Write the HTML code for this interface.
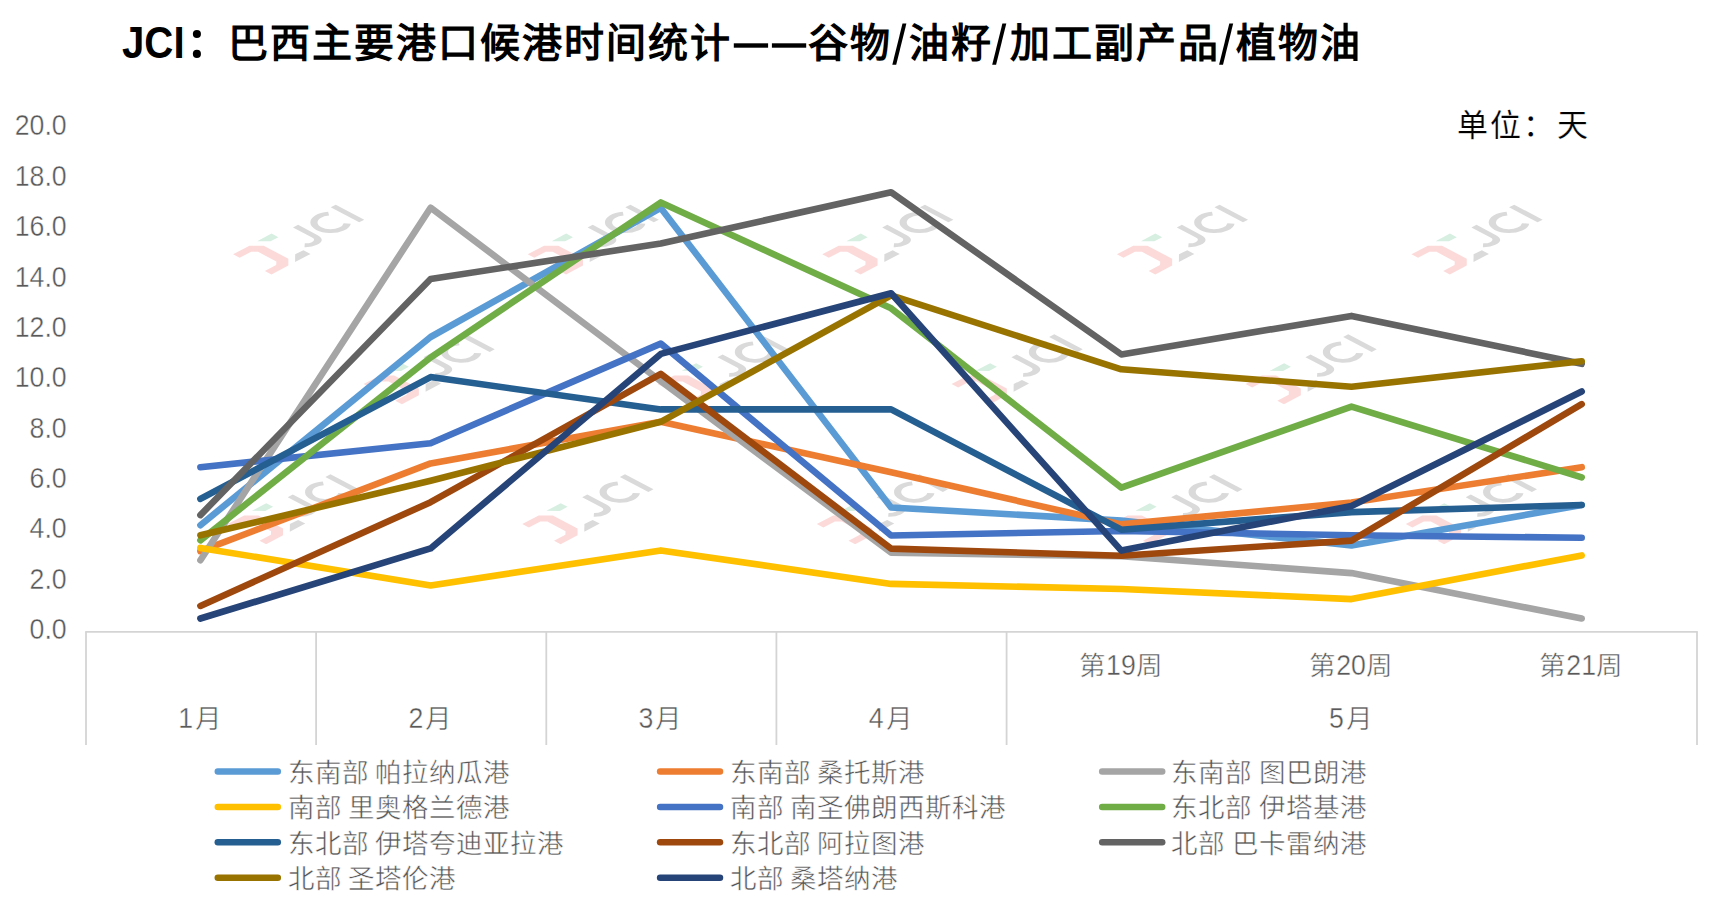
<!DOCTYPE html>
<html lang="zh-CN"><head><meta charset="utf-8"><title>JCI</title>
<style>html,body{margin:0;padding:0;background:#fff}body{width:1722px;height:915px;overflow:hidden}svg{display:block}text{font-family:"Liberation Sans",sans-serif}.ax{font-size:26.5px;fill:#555;stroke:#fff;stroke-width:0.5px}.dg{font-size:30px;fill:#595959;stroke:#fff;stroke-width:0.4px}.ay{font-size:30px;fill:#595959;stroke:#fff;stroke-width:0.4px}.lg{font-size:26.5px;fill:#555;stroke:#fff;stroke-width:0.5px}.ti{font-size:40px;font-weight:700;fill:#000;letter-spacing:2px}.tj{font-size:45px;font-weight:700;fill:#000}.un{font-size:31px;fill:#000;letter-spacing:2.3px;stroke:#fff;stroke-width:0.2px}</style></head><body>
<svg width="1722" height="915" viewBox="0 0 1722 915">
<rect width="1722" height="915" fill="#fff"/>
<g id="watermarks">
<g transform="matrix(0.909,-0.479,0.909,0.479,233.1,254.3)"><polygon fill="#FDDADA" points="0,0 18,0 25.8,7.8 25.8,35 18.6,42.2 0,42.2 0,34.9 12.5,34.9 16.2,31.4 16.3,11.2 12.6,7.3 0,7.2"/><polygon fill="#D6EFE1" points="27,-0.5 42.8,-0.5 42.8,7 34.2,7"/><polygon fill="#DADADA" points="34.1,34.2 43,34.4 43,42.2 26,42.2"/><g fill="none" stroke="#DADADA" stroke-width="5.6"><path d="M63.7,5 L63.7,26 Q63.7,33.4 56,33.4 Q52,33.4 48.8,29.9"/><path d="M95.0,10.06 A13,13 0 1 0 95.0,30.54"/><path d="M105.5,4.65 L105.5,36"/></g></g>
<g transform="matrix(0.909,-0.479,0.909,0.479,527.7,254.3)"><polygon fill="#FDDADA" points="0,0 18,0 25.8,7.8 25.8,35 18.6,42.2 0,42.2 0,34.9 12.5,34.9 16.2,31.4 16.3,11.2 12.6,7.3 0,7.2"/><polygon fill="#D6EFE1" points="27,-0.5 42.8,-0.5 42.8,7 34.2,7"/><polygon fill="#DADADA" points="34.1,34.2 43,34.4 43,42.2 26,42.2"/><g fill="none" stroke="#DADADA" stroke-width="5.6"><path d="M63.7,5 L63.7,26 Q63.7,33.4 56,33.4 Q52,33.4 48.8,29.9"/><path d="M95.0,10.06 A13,13 0 1 0 95.0,30.54"/><path d="M105.5,4.65 L105.5,36"/></g></g>
<g transform="matrix(0.909,-0.479,0.909,0.479,822.3,254.3)"><polygon fill="#FDDADA" points="0,0 18,0 25.8,7.8 25.8,35 18.6,42.2 0,42.2 0,34.9 12.5,34.9 16.2,31.4 16.3,11.2 12.6,7.3 0,7.2"/><polygon fill="#D6EFE1" points="27,-0.5 42.8,-0.5 42.8,7 34.2,7"/><polygon fill="#DADADA" points="34.1,34.2 43,34.4 43,42.2 26,42.2"/><g fill="none" stroke="#DADADA" stroke-width="5.6"><path d="M63.7,5 L63.7,26 Q63.7,33.4 56,33.4 Q52,33.4 48.8,29.9"/><path d="M95.0,10.06 A13,13 0 1 0 95.0,30.54"/><path d="M105.5,4.65 L105.5,36"/></g></g>
<g transform="matrix(0.909,-0.479,0.909,0.479,1116.9,254.3)"><polygon fill="#FDDADA" points="0,0 18,0 25.8,7.8 25.8,35 18.6,42.2 0,42.2 0,34.9 12.5,34.9 16.2,31.4 16.3,11.2 12.6,7.3 0,7.2"/><polygon fill="#D6EFE1" points="27,-0.5 42.8,-0.5 42.8,7 34.2,7"/><polygon fill="#DADADA" points="34.1,34.2 43,34.4 43,42.2 26,42.2"/><g fill="none" stroke="#DADADA" stroke-width="5.6"><path d="M63.7,5 L63.7,26 Q63.7,33.4 56,33.4 Q52,33.4 48.8,29.9"/><path d="M95.0,10.06 A13,13 0 1 0 95.0,30.54"/><path d="M105.5,4.65 L105.5,36"/></g></g>
<g transform="matrix(0.909,-0.479,0.909,0.479,1411.5,254.3)"><polygon fill="#FDDADA" points="0,0 18,0 25.8,7.8 25.8,35 18.6,42.2 0,42.2 0,34.9 12.5,34.9 16.2,31.4 16.3,11.2 12.6,7.3 0,7.2"/><polygon fill="#D6EFE1" points="27,-0.5 42.8,-0.5 42.8,7 34.2,7"/><polygon fill="#DADADA" points="34.1,34.2 43,34.4 43,42.2 26,42.2"/><g fill="none" stroke="#DADADA" stroke-width="5.6"><path d="M63.7,5 L63.7,26 Q63.7,33.4 56,33.4 Q52,33.4 48.8,29.9"/><path d="M95.0,10.06 A13,13 0 1 0 95.0,30.54"/><path d="M105.5,4.65 L105.5,36"/></g></g>
<g transform="matrix(0.909,-0.479,0.909,0.479,363.6,384.0)"><polygon fill="#FDDADA" points="0,0 18,0 25.8,7.8 25.8,35 18.6,42.2 0,42.2 0,34.9 12.5,34.9 16.2,31.4 16.3,11.2 12.6,7.3 0,7.2"/><polygon fill="#D6EFE1" points="27,-0.5 42.8,-0.5 42.8,7 34.2,7"/><polygon fill="#DADADA" points="34.1,34.2 43,34.4 43,42.2 26,42.2"/><g fill="none" stroke="#DADADA" stroke-width="5.6"><path d="M63.7,5 L63.7,26 Q63.7,33.4 56,33.4 Q52,33.4 48.8,29.9"/><path d="M95.0,10.06 A13,13 0 1 0 95.0,30.54"/><path d="M105.5,4.65 L105.5,36"/></g></g>
<g transform="matrix(0.909,-0.479,0.909,0.479,657.6,384.0)"><polygon fill="#FDDADA" points="0,0 18,0 25.8,7.8 25.8,35 18.6,42.2 0,42.2 0,34.9 12.5,34.9 16.2,31.4 16.3,11.2 12.6,7.3 0,7.2"/><polygon fill="#D6EFE1" points="27,-0.5 42.8,-0.5 42.8,7 34.2,7"/><polygon fill="#DADADA" points="34.1,34.2 43,34.4 43,42.2 26,42.2"/><g fill="none" stroke="#DADADA" stroke-width="5.6"><path d="M63.7,5 L63.7,26 Q63.7,33.4 56,33.4 Q52,33.4 48.8,29.9"/><path d="M95.0,10.06 A13,13 0 1 0 95.0,30.54"/><path d="M105.5,4.65 L105.5,36"/></g></g>
<g transform="matrix(0.909,-0.479,0.909,0.479,951.6,384.0)"><polygon fill="#FDDADA" points="0,0 18,0 25.8,7.8 25.8,35 18.6,42.2 0,42.2 0,34.9 12.5,34.9 16.2,31.4 16.3,11.2 12.6,7.3 0,7.2"/><polygon fill="#D6EFE1" points="27,-0.5 42.8,-0.5 42.8,7 34.2,7"/><polygon fill="#DADADA" points="34.1,34.2 43,34.4 43,42.2 26,42.2"/><g fill="none" stroke="#DADADA" stroke-width="5.6"><path d="M63.7,5 L63.7,26 Q63.7,33.4 56,33.4 Q52,33.4 48.8,29.9"/><path d="M95.0,10.06 A13,13 0 1 0 95.0,30.54"/><path d="M105.5,4.65 L105.5,36"/></g></g>
<g transform="matrix(0.909,-0.479,0.909,0.479,1245.6,384.0)"><polygon fill="#FDDADA" points="0,0 18,0 25.8,7.8 25.8,35 18.6,42.2 0,42.2 0,34.9 12.5,34.9 16.2,31.4 16.3,11.2 12.6,7.3 0,7.2"/><polygon fill="#D6EFE1" points="27,-0.5 42.8,-0.5 42.8,7 34.2,7"/><polygon fill="#DADADA" points="34.1,34.2 43,34.4 43,42.2 26,42.2"/><g fill="none" stroke="#DADADA" stroke-width="5.6"><path d="M63.7,5 L63.7,26 Q63.7,33.4 56,33.4 Q52,33.4 48.8,29.9"/><path d="M95.0,10.06 A13,13 0 1 0 95.0,30.54"/><path d="M105.5,4.65 L105.5,36"/></g></g>
<g transform="matrix(0.909,-0.479,0.909,0.479,227.8,524.0)"><polygon fill="#FDDADA" points="0,0 18,0 25.8,7.8 25.8,35 18.6,42.2 0,42.2 0,34.9 12.5,34.9 16.2,31.4 16.3,11.2 12.6,7.3 0,7.2"/><polygon fill="#D6EFE1" points="27,-0.5 42.8,-0.5 42.8,7 34.2,7"/><polygon fill="#DADADA" points="34.1,34.2 43,34.4 43,42.2 26,42.2"/><g fill="none" stroke="#DADADA" stroke-width="5.6"><path d="M63.7,5 L63.7,26 Q63.7,33.4 56,33.4 Q52,33.4 48.8,29.9"/><path d="M95.0,10.06 A13,13 0 1 0 95.0,30.54"/><path d="M105.5,4.65 L105.5,36"/></g></g>
<g transform="matrix(0.909,-0.479,0.909,0.479,522.3,524.0)"><polygon fill="#FDDADA" points="0,0 18,0 25.8,7.8 25.8,35 18.6,42.2 0,42.2 0,34.9 12.5,34.9 16.2,31.4 16.3,11.2 12.6,7.3 0,7.2"/><polygon fill="#D6EFE1" points="27,-0.5 42.8,-0.5 42.8,7 34.2,7"/><polygon fill="#DADADA" points="34.1,34.2 43,34.4 43,42.2 26,42.2"/><g fill="none" stroke="#DADADA" stroke-width="5.6"><path d="M63.7,5 L63.7,26 Q63.7,33.4 56,33.4 Q52,33.4 48.8,29.9"/><path d="M95.0,10.06 A13,13 0 1 0 95.0,30.54"/><path d="M105.5,4.65 L105.5,36"/></g></g>
<g transform="matrix(0.909,-0.479,0.909,0.479,816.8,524.0)"><polygon fill="#FDDADA" points="0,0 18,0 25.8,7.8 25.8,35 18.6,42.2 0,42.2 0,34.9 12.5,34.9 16.2,31.4 16.3,11.2 12.6,7.3 0,7.2"/><polygon fill="#D6EFE1" points="27,-0.5 42.8,-0.5 42.8,7 34.2,7"/><polygon fill="#DADADA" points="34.1,34.2 43,34.4 43,42.2 26,42.2"/><g fill="none" stroke="#DADADA" stroke-width="5.6"><path d="M63.7,5 L63.7,26 Q63.7,33.4 56,33.4 Q52,33.4 48.8,29.9"/><path d="M95.0,10.06 A13,13 0 1 0 95.0,30.54"/><path d="M105.5,4.65 L105.5,36"/></g></g>
<g transform="matrix(0.909,-0.479,0.909,0.479,1111.3,524.0)"><polygon fill="#FDDADA" points="0,0 18,0 25.8,7.8 25.8,35 18.6,42.2 0,42.2 0,34.9 12.5,34.9 16.2,31.4 16.3,11.2 12.6,7.3 0,7.2"/><polygon fill="#D6EFE1" points="27,-0.5 42.8,-0.5 42.8,7 34.2,7"/><polygon fill="#DADADA" points="34.1,34.2 43,34.4 43,42.2 26,42.2"/><g fill="none" stroke="#DADADA" stroke-width="5.6"><path d="M63.7,5 L63.7,26 Q63.7,33.4 56,33.4 Q52,33.4 48.8,29.9"/><path d="M95.0,10.06 A13,13 0 1 0 95.0,30.54"/><path d="M105.5,4.65 L105.5,36"/></g></g>
<g transform="matrix(0.909,-0.479,0.909,0.479,1405.8,524.0)"><polygon fill="#FDDADA" points="0,0 18,0 25.8,7.8 25.8,35 18.6,42.2 0,42.2 0,34.9 12.5,34.9 16.2,31.4 16.3,11.2 12.6,7.3 0,7.2"/><polygon fill="#D6EFE1" points="27,-0.5 42.8,-0.5 42.8,7 34.2,7"/><polygon fill="#DADADA" points="34.1,34.2 43,34.4 43,42.2 26,42.2"/><g fill="none" stroke="#DADADA" stroke-width="5.6"><path d="M63.7,5 L63.7,26 Q63.7,33.4 56,33.4 Q52,33.4 48.8,29.9"/><path d="M95.0,10.06 A13,13 0 1 0 95.0,30.54"/><path d="M105.5,4.65 L105.5,36"/></g></g>
</g>
<g stroke="#D4D4D4" stroke-width="1.8" fill="none">
<path d="M85.2,631.9 H1697.8"/>
<path d="M86.0,631.9 V745"/>
<path d="M316.1,631.9 V745"/>
<path d="M546.3,631.9 V745"/>
<path d="M776.4,631.9 V745"/>
<path d="M1006.6,631.9 V745"/>
<path d="M1697.0,631.9 V745"/>
</g>
<g class="ay" text-anchor="end">
<text transform="translate(66.7,639.2) scale(0.89,1)">0.0</text>
<text transform="translate(66.7,588.8) scale(0.89,1)">2.0</text>
<text transform="translate(66.7,538.4) scale(0.89,1)">4.0</text>
<text transform="translate(66.7,488.1) scale(0.89,1)">6.0</text>
<text transform="translate(66.7,437.7) scale(0.89,1)">8.0</text>
<text transform="translate(66.7,387.3) scale(0.89,1)">10.0</text>
<text transform="translate(66.7,336.9) scale(0.89,1)">12.0</text>
<text transform="translate(66.7,286.5) scale(0.89,1)">14.0</text>
<text transform="translate(66.7,236.2) scale(0.89,1)">16.0</text>
<text transform="translate(66.7,185.8) scale(0.89,1)">18.0</text>
<text transform="translate(66.7,135.4) scale(0.89,1)">20.0</text>
</g>
<g>
<text class="dg" transform="translate(178.27,727.9) scale(0.89,1)">1</text>
<text class="ax" x="195.07" y="728.0">月</text>
<text class="dg" transform="translate(408.41,727.9) scale(0.89,1)">2</text>
<text class="ax" x="425.21" y="728.0">月</text>
<text class="dg" transform="translate(638.56,727.9) scale(0.89,1)">3</text>
<text class="ax" x="655.36" y="728.0">月</text>
<text class="dg" transform="translate(868.70,727.9) scale(0.89,1)">4</text>
<text class="ax" x="885.50" y="728.0">月</text>
<text class="dg" transform="translate(1328.99,727.9) scale(0.89,1)">5</text>
<text class="ax" x="1345.79" y="728.0">月</text>
<text class="ax" x="1079.04" y="675.0">第</text>
<text class="dg" transform="translate(1106.04,674.9) scale(0.89,1)">19</text>
<text class="ax" x="1135.54" y="675.0">周</text>
<text class="ax" x="1309.19" y="675.0">第</text>
<text class="dg" transform="translate(1336.19,674.9) scale(0.89,1)">20</text>
<text class="ax" x="1365.69" y="675.0">周</text>
<text class="ax" x="1539.33" y="675.0">第</text>
<text class="dg" transform="translate(1566.33,674.9) scale(0.89,1)">21</text>
<text class="ax" x="1595.83" y="675.0">周</text>
</g>
<g fill="none" stroke-width="6.6" stroke-linecap="round" stroke-linejoin="round">
<polyline stroke="#5B9BD5" points="200.4,525.2 430.6,337.0 660.8,207.9 891.1,507.5 1121.3,520.6 1351.5,545.4 1581.7,505.0"/>
<polyline stroke="#ED7D31" points="200.4,551.2 430.6,463.4 660.8,421.8 891.1,472.2 1121.3,524.4 1351.5,502.5 1581.7,467.2"/>
<polyline stroke="#A5A5A5" points="200.4,560.2 430.6,207.7 660.8,381.2 891.1,552.7 1121.3,556.2 1351.5,573.1 1581.7,618.5"/>
<polyline stroke="#FFC000" points="200.4,547.9 430.6,585.5 660.8,550.4 891.1,583.9 1121.3,589.0 1351.5,599.1 1581.7,555.4"/>
<polyline stroke="#4472C4" points="200.4,467.2 430.6,443.2 660.8,343.6 891.1,535.5 1121.3,531.0 1351.5,535.3 1581.7,537.8"/>
<polyline stroke="#70AD47" points="200.4,540.3 430.6,357.5 660.8,202.4 891.1,308.3 1121.3,487.6 1351.5,406.6 1581.7,477.3"/>
<polyline stroke="#255E91" points="200.4,498.9 430.6,377.1 660.8,409.4 891.1,409.4 1121.3,529.7 1351.5,512.1 1581.7,505.0"/>
<polyline stroke="#9E480E" points="200.4,605.9 430.6,502.2 660.8,373.9 891.1,548.6 1121.3,555.7 1351.5,540.6 1581.7,404.1"/>
<polyline stroke="#636363" points="200.4,515.1 430.6,279.0 660.8,243.5 891.1,192.3 1121.3,354.4 1351.5,315.9 1581.7,363.8"/>
<polyline stroke="#997300" points="200.4,535.3 430.6,480.8 660.8,421.8 891.1,295.4 1121.3,369.3 1351.5,386.7 1581.7,361.2"/>
<polyline stroke="#264478" points="200.4,618.5 430.6,548.4 660.8,353.9 891.1,293.2 1121.3,550.6 1351.5,506.0 1581.7,391.5"/>
</g>
<text class="tj" transform="translate(122,57.9) scale(0.894,1)">JCI</text>
<g class="ti">
<text x="228.35" y="57.1">巴西主要港口候港时间统计</text>
<text x="807.90" y="57.1">谷物</text>
<text x="909.40" y="57.1">油籽</text>
<text x="1010.00" y="57.1">加工副产品</text>
<text x="1236.00" y="57.1">植物油</text>
</g>
<circle cx="196.9" cy="34" r="4.05"/><circle cx="196.9" cy="53.9" r="4.05"/>
<rect x="733.8" y="43.3" width="34.3" height="4.4" fill="#000"/><rect x="771.9" y="43.3" width="34.3" height="4.4" fill="#000"/>
<polygon fill="#000" points="892.3,64.8 896.2,64.8 906.4,23.5 902.5,23.5"/>
<polygon fill="#000" points="992.2,64.8 996.1,64.8 1006.3,23.5 1002.4,23.5"/>
<polygon fill="#000" points="1219.1,64.8 1223.0,64.8 1233.2,23.5 1229.3,23.5"/>
<text class="un" x="1456.8" y="136.2">单位：天</text>
<g>
<line x1="217.8" y1="771.6" x2="277.8" y2="771.6" stroke="#5B9BD5" stroke-width="6.5" stroke-linecap="round"/>
<text class="lg" x="287.60 314.55 341.50 368.45 375.20 402.15 429.10 456.05 483.00" y="781.9">东南部 帕拉纳瓜港</text>
<line x1="660.1" y1="771.6" x2="720.0" y2="771.6" stroke="#ED7D31" stroke-width="6.5" stroke-linecap="round"/>
<text class="lg" x="729.60 756.55 783.50 810.45 817.20 844.15 871.10 898.05" y="781.9">东南部 桑托斯港</text>
<line x1="1102.2" y1="771.6" x2="1162.2" y2="771.6" stroke="#A5A5A5" stroke-width="6.5" stroke-linecap="round"/>
<text class="lg" x="1171.40 1198.35 1225.30 1252.25 1259.00 1285.95 1312.90 1339.85" y="781.9">东南部 图巴朗港</text>
<line x1="217.8" y1="807.0" x2="277.8" y2="807.0" stroke="#FFC000" stroke-width="6.5" stroke-linecap="round"/>
<text class="lg" x="287.60 314.55 341.50 348.25 375.20 402.15 429.10 456.05 483.00" y="817.3">南部 里奥格兰德港</text>
<line x1="660.1" y1="807.0" x2="720.0" y2="807.0" stroke="#4472C4" stroke-width="6.5" stroke-linecap="round"/>
<text class="lg" x="729.60 756.55 783.50 790.25 817.20 844.15 871.10 898.05 925.00 951.95 978.90" y="817.3">南部 南圣佛朗西斯科港</text>
<line x1="1102.2" y1="807.0" x2="1162.2" y2="807.0" stroke="#70AD47" stroke-width="6.5" stroke-linecap="round"/>
<text class="lg" x="1171.40 1198.35 1225.30 1252.25 1259.00 1285.95 1312.90 1339.85" y="817.3">东北部 伊塔基港</text>
<line x1="217.8" y1="842.3" x2="277.8" y2="842.3" stroke="#255E91" stroke-width="6.5" stroke-linecap="round"/>
<text class="lg" x="287.60 314.55 341.50 368.45 375.20 402.15 429.10 456.05 483.00 509.95 536.90" y="852.6">东北部 伊塔夸迪亚拉港</text>
<line x1="660.1" y1="842.3" x2="720.0" y2="842.3" stroke="#9E480E" stroke-width="6.5" stroke-linecap="round"/>
<text class="lg" x="729.60 756.55 783.50 810.45 817.20 844.15 871.10 898.05" y="852.6">东北部 阿拉图港</text>
<line x1="1102.2" y1="842.3" x2="1162.2" y2="842.3" stroke="#636363" stroke-width="6.5" stroke-linecap="round"/>
<text class="lg" x="1171.40 1198.35 1225.30 1232.05 1259.00 1285.95 1312.90 1339.85" y="852.6">北部 巴卡雷纳港</text>
<line x1="217.8" y1="877.7" x2="277.8" y2="877.7" stroke="#997300" stroke-width="6.5" stroke-linecap="round"/>
<text class="lg" x="287.60 314.55 341.50 348.25 375.20 402.15 429.10" y="888.0">北部 圣塔伦港</text>
<line x1="660.1" y1="877.7" x2="720.0" y2="877.7" stroke="#264478" stroke-width="6.5" stroke-linecap="round"/>
<text class="lg" x="729.60 756.55 783.50 790.25 817.20 844.15 871.10" y="888.0">北部 桑塔纳港</text>
</g>
</svg></body></html>
